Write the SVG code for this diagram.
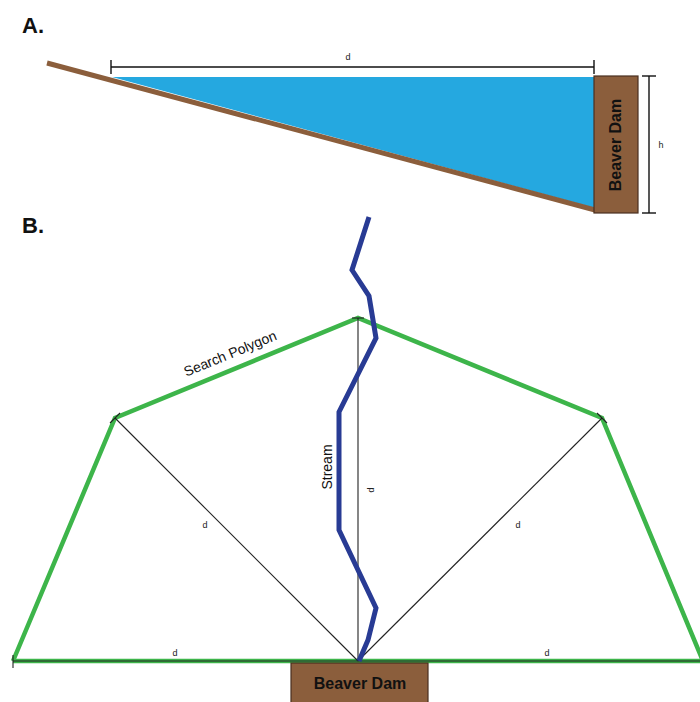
<svg xmlns="http://www.w3.org/2000/svg" width="700" height="702" viewBox="0 0 700 702">
<style>
.lbl{font-family:"Liberation Sans",Arial,sans-serif;font-weight:bold;font-size:22px;fill:#111}
.dam{fill:#8B5E3C;stroke:#4a3020;stroke-width:1.2}
.damt{font-family:"Liberation Sans",Arial,sans-serif;font-weight:bold;font-size:16px;fill:#111;text-anchor:middle}
.dim{stroke:#222;stroke-width:1.1;fill:none}
.dimA{stroke:#111;stroke-width:1.4;fill:none}
.small{font-family:"Liberation Sans",Arial,sans-serif;font-size:9px;fill:#222;text-anchor:middle}
.green{stroke:#3DB54A;stroke-width:4.5;fill:none;stroke-linejoin:miter}
.stream{stroke:#283B94;stroke-width:5;fill:none;stroke-linejoin:miter}
.txt{font-family:"Liberation Sans",Arial,sans-serif;font-size:14px;fill:#111;text-anchor:middle}
</style>
<rect width="700" height="702" fill="#fff"/>
<g id="partA">
  <text class="lbl" x="22" y="33">A.</text>
  <polygon id="pond" points="112,77 595,77 595,208" fill="#25A8E0"/>
  <line id="slope" x1="47" y1="63" x2="595" y2="210" stroke="#8B5E3C" stroke-width="5"/>
  <g id="damA">
    <rect class="dam" x="594" y="76" width="44" height="137"/>
    <text class="damt" transform="translate(621,145) rotate(-90)">Beaver Dam</text>
  </g>
  <g id="dimA-d">
    <line class="dimA" x1="111" y1="67" x2="594" y2="67"/>
    <line class="dimA" x1="111" y1="60" x2="111" y2="74"/>
    <line class="dimA" x1="594" y1="60" x2="594" y2="74"/>
    <text class="small" x="348" y="60">d</text>
  </g>
  <g id="dimA-h">
    <line class="dimA" x1="649" y1="76" x2="649" y2="213"/>
    <line class="dimA" x1="642" y1="76" x2="656" y2="76"/>
    <line class="dimA" x1="642" y1="213" x2="656" y2="213"/>
    <text class="small" x="661" y="148">h</text>
  </g>
</g>
<g id="partB">
  <text class="lbl" x="22" y="233">B.</text>
  <g id="polygon">
    <polyline class="green" points="13,661 115,418 358,318 602,418 703,661"/>
    <line class="green" x1="13" y1="661" x2="700" y2="661"/>
    <text class="txt" font-size="13" transform="translate(232,358) rotate(-22.4)">Search Polygon</text>
  </g>
  <g id="connectors">
    <line class="dim" x1="358" y1="661" x2="115" y2="418"/>
    <line class="dim" x1="358" y1="661" x2="358" y2="318"/>
    <line class="dim" x1="358" y1="661" x2="602" y2="418"/>
    <line class="dim" x1="13" y1="661" x2="700" y2="661" stroke-width="1.4"/>
    <line class="dim" x1="13" y1="655" x2="13" y2="668"/>
    <line class="dim" x1="352" y1="318" x2="364" y2="318"/>
    <line class="dim" x1="110" y1="423" x2="120" y2="413"/>
    <line class="dim" x1="597" y1="413" x2="607" y2="423"/>
    <text class="small" x="175" y="656">d</text>
    <text class="small" x="547" y="656">d</text>
    <text class="small" x="205" y="528">d</text>
    <text class="small" x="518" y="528">d</text>
    <text class="small" transform="translate(374,490) rotate(-90)">d</text>
  </g>
  <g id="stream">
    <polyline class="stream" points="369,217 352,270 369,296 376,338 339,412 339,530 376,608 368,640 359,661"/>
    <text class="txt" transform="translate(332,467) rotate(-90)">Stream</text>
  </g>
  <g id="damB">
    <rect class="dam" x="291" y="663" width="137" height="42"/>
    <text class="damt" x="360" y="689">Beaver Dam</text>
  </g>
</g>
</svg>
